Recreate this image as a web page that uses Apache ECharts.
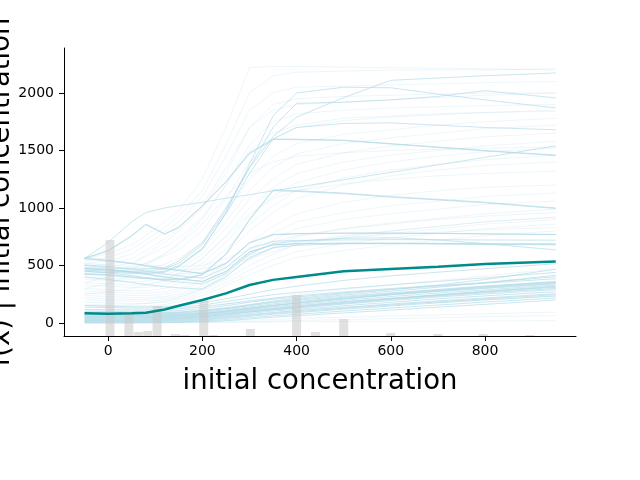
<!DOCTYPE html>
<html>
<head>
<meta charset="utf-8">
<script src="https://cdn.jsdelivr.net/npm/echarts@6/dist/echarts.min.js"></script>
<style>
html,body{margin:0;padding:0;background:#fff;}
#chart{width:640px;height:480px;}
</style>
</head>
<body>
<div id="chart"></div>
<script>
// grid of feature values (initial concentration)
const X = [-50, 0, 50, 80, 120, 150, 200, 250, 300, 350, 400, 500, 600, 700, 800, 950];

// individual conditional expectation curves (more visible ones)
const iceStrong = [
  [0,0,0,1,3,5,10,20,35,50,62,88,112,138,162,200],
  [6,6,6,7,9,11,18,30,46,62,76,104,130,156,182,218],
  [12,12,12,13,16,18,25,40,58,76,90,120,148,175,200,235],
  [17,17,17,18,21,24,32,47,66,84,98,128,156,184,210,246],
  [22,22,22,23,26,28,38,54,72,92,106,136,165,192,218,255],
  [27,27,27,28,31,34,45,62,84,104,118,150,180,210,236,272],
  [32,32,32,33,37,40,52,70,94,114,130,164,196,226,252,290],
  [37,37,37,38,41,44,55,74,96,116,134,170,204,234,262,300],
  [42,42,42,43,46,48,58,78,100,120,140,176,210,240,270,310],
  [47,47,46,47,50,53,64,84,106,126,145,181,213,243,273,316],
  [52,52,51,52,55,58,70,90,112,132,150,186,216,246,276,322],
  [57,56,55,56,59,62,75,95,118,141,160,197,230,260,288,330],
  [62,60,60,61,64,67,80,100,125,150,170,208,244,274,300,340],
  [67,66,65,65,68,71,83,103,128,152,173,212,247,278,306,346],
  [72,71,70,70,72,74,86,106,130,155,176,216,250,282,312,352],
  [77,75,74,75,78,80,93,115,140,165,186,224,256,287,317,357],
  [82,80,79,80,83,86,100,124,150,176,196,232,262,292,322,362],
  [87,85,84,85,88,91,105,128,155,183,205,243,276,311,350,415],
  [92,90,89,90,93,96,110,132,160,190,214,254,290,330,378,468],
  [102,100,98,99,104,108,124,150,180,206,226,262,292,320,346,385],
  [118,116,114,115,120,124,140,165,192,216,236,270,300,326,352,402],
  [138,134,130,130,134,138,156,186,216,246,266,300,332,362,392,440],
  [152,146,140,140,145,150,176,210,250,290,320,370,410,442,472,515],
  [565,545,520,500,475,460,430,520,700,770,778,782,782,780,776,770],
  [560,540,516,496,472,456,428,515,694,766,775,780,780,778,774,768],
  [505,492,470,452,425,410,390,480,650,710,718,722,725,724,722,720],
  [480,468,446,428,400,386,362,450,620,680,690,695,695,693,690,688],
  [476,464,442,424,398,383,360,446,616,677,687,692,692,690,687,684],
  [450,436,412,395,368,356,340,430,600,690,712,736,742,722,690,636],
  [400,378,352,335,315,306,294,400,570,655,676,688,690,686,682,680],
  [560,700,880,960,1000,1020,1050,1085,1115,1150,1180,1245,1310,1375,1440,1540],
  [565,630,760,860,775,835,1020,1230,1480,1600,1598,1590,1560,1530,1500,1460],
  [560,625,755,855,772,830,1015,1225,1470,1595,1594,1586,1556,1526,1496,1455],
  [500,480,470,470,480,540,700,1000,1350,1620,1790,1960,2110,2130,2150,2174],
  [470,460,450,450,470,520,680,980,1350,1700,1910,1920,1940,1970,2020,1957],
  [460,450,440,440,450,500,650,950,1300,1600,1700,1735,1740,1720,1700,1680],
  [450,440,430,430,440,490,640,960,1380,1800,2000,2050,2045,1990,1940,1870],
  [430,420,400,390,380,380,420,600,900,1157,1150,1130,1100,1075,1050,1000],
  [425,415,396,386,376,376,416,594,894,1150,1144,1124,1094,1070,1045,995]
];

// individual conditional expectation curves (faint ones)
const iceFaint = [
  [560,600,680,760,880,980,1250,1700,2220,2230,2230,2225,2220,2215,2210,2200],
  [540,570,640,720,830,930,1150,1550,2000,2150,2180,2190,2200,2200,2200,2210],
  [520,540,600,680,790,880,1100,1450,1850,2000,2050,2060,2070,2080,2090,2100],
  [500,510,560,630,730,820,1020,1350,1700,1850,1900,1920,1940,1960,1980,2000],
  [480,490,520,580,660,740,920,1200,1550,1750,1820,1850,1870,1880,1890,1900],
  [460,460,480,520,580,640,800,1080,1400,1600,1700,1760,1790,1810,1830,1850],
  [440,440,450,470,510,560,700,950,1250,1450,1560,1640,1680,1720,1750,1780],
  [420,415,410,420,450,500,640,880,1150,1350,1470,1560,1610,1650,1690,1720],
  [400,390,380,390,420,460,600,820,1080,1250,1380,1480,1540,1580,1620,1650],
  [380,370,360,365,390,430,560,760,1000,1180,1300,1400,1460,1500,1540,1580],
  [350,340,330,335,360,400,520,700,930,1100,1220,1330,1400,1450,1490,1520],
  [330,320,310,310,330,370,480,640,860,1020,1150,1260,1330,1380,1420,1460],
  [300,290,280,280,300,340,440,600,800,960,1080,1200,1280,1330,1370,1400],
  [280,270,260,260,270,300,380,520,700,840,950,1050,1110,1150,1180,1200],
  [260,250,240,240,250,280,350,480,640,780,880,960,1020,1060,1100,1130],
  [240,230,220,220,230,255,320,440,590,720,820,900,950,990,1030,1060],
  [220,210,205,205,215,240,300,410,550,660,750,820,870,910,950,990],
  [200,195,190,190,200,225,280,380,500,600,680,750,800,840,880,920],
  [180,175,170,170,180,205,260,350,460,550,620,690,740,780,820,860],
  [160,155,150,150,160,185,240,320,420,500,570,630,680,720,760,800],
  [5,5,5,5,5,5,5,6,8,10,12,14,15,16,18,20],
  [10,10,10,10,10,12,14,18,24,30,40,50,60,70,80,95],
  [2,2,2,2,2,3,5,8,12,16,22,30,38,46,55,65],
  [25,25,25,25,28,34,44,58,74,88,112,138,160,182,205,235],
  [110,108,106,106,110,122,140,165,190,210,250,290,330,370,410,470],
  [550,540,520,505,495,490,500,560,640,700,760,820,860,900,930,960],
  [520,505,490,475,465,460,470,520,590,650,700,760,800,840,880,920],
  [470,455,440,430,425,425,440,490,560,620,680,740,780,820,860,900],
  [300,340,420,500,600,700,900,1200,1500,1650,1720,1780,1800,1820,1830,1840],
  [350,400,500,600,700,800,1000,1300,1700,1900,1950,1970,1980,1990,2000,2000],
  [250,270,300,330,380,430,560,750,950,1080,1150,1210,1250,1280,1300,1320],
  [150,150,160,170,190,220,300,420,560,650,700,740,770,790,810,830],
  [420,430,470,520,600,680,860,1100,1300,1400,1450,1480,1500,1510,1520,1530]
];

// partial dependence (average) curve
const pdValues = [85,80,85,90,118,150,200,258,330,375,400,450,470,490,512,535];

// distribution of the feature (histogram bins)
const histCenters = [4,44,64,84,104,143,163,203,223,302,400,440,500,600,700,796,895];
const histFreq = [96,23,4,5,30,2,1,36,1,7,41,4,17,3,2,2,1];
const histMax = 288;

const xTicks = [0,200,400,600,800];
const yTicks = [0,500,1000,1500,2000];

const series = [];
function pairs(vals){ return X.map((x,i)=>[x, vals[i]]); }
iceFaint.forEach(v => series.push({
  type:'line', data:pairs(v), symbol:'none', silent:true, z:1,
  lineStyle:{color:'#add8e6', width:1, opacity:0.22}
}));
iceStrong.forEach(v => series.push({
  type:'line', data:pairs(v), symbol:'none', silent:true, z:2,
  lineStyle:{color:'#add8e6', width:1, opacity:0.65}
}));
series.push({
  type:'bar', yAxisIndex:1, data:histCenters.map((c,i)=>[c, histFreq[i]]),
  barWidth:9, silent:true, z:3,
  itemStyle:{color:'rgba(200,200,200,0.55)'}
});
series.push({
  type:'line', data:pairs(pdValues), symbol:'none', silent:true, z:4, smooth:false,
  lineStyle:{color:'#008b8b', width:2.5}
});

const axisFont = {color:'#000', fontSize:14, fontFamily:'DejaVu Sans'};
const chart = echarts.init(document.getElementById('chart'), null, {renderer:'canvas'});
chart.setOption({
  animation:false,
  backgroundColor:'#fff',
  grid:{left:64, right:64, top:48, bottom:144, containLabel:false},
  xAxis:{
    type:'value', min:-93.6, max:993,
    name:'initial concentration', nameLocation:'middle', nameGap:32,
    nameTextStyle:{color:'#000', fontSize:27.5, fontFamily:'DejaVu Sans'},
    axisLine:{show:true, onZero:false, lineStyle:{color:'#000', width:1}},
    axisTick:{show:true, length:5, customValues:xTicks, lineStyle:{color:'#000'}},
    axisLabel:Object.assign({customValues:xTicks, margin:8, formatter:v=>String(v)}, axisFont),
    splitLine:{show:false}
  },
  yAxis:[{
    type:'value', min:-113, max:2391,
    axisLine:{show:true, onZero:false, lineStyle:{color:'#000', width:1}},
    axisTick:{show:true, length:5, customValues:yTicks, lineStyle:{color:'#000'}},
    axisLabel:Object.assign({customValues:yTicks, margin:10, formatter:v=>String(v)}, axisFont),
    splitLine:{show:false}
  },{
    type:'value', min:0, max:histMax, show:false, splitLine:{show:false}
  }],
  graphic:[{
    type:'text', x:2, y:192, rotation:Math.PI/2,
    style:{text:'f(x) | initial concentration', fontSize:27.5, fontFamily:'DejaVu Sans',
      fill:'#000', textAlign:'center', textVerticalAlign:'middle'}
  }],
  series:series
});
</script>
</body>
</html>
